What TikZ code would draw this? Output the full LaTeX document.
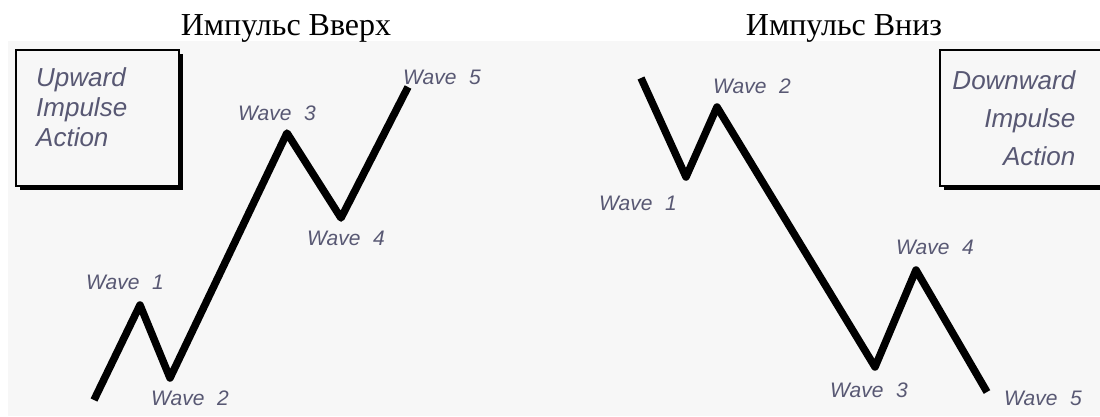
\documentclass[tikz,border=0pt]{standalone}
\usepackage{fontspec}
\setmainfont{Liberation Serif}
\newfontfamily\wavefont{Liberation Sans}
\usetikzlibrary{shadows}
\definecolor{panelgray}{RGB}{247,247,247}
\definecolor{wavetext}{RGB}{88,88,115}
\newcommand{\wv}[1]{Wave\hspace{.6em}#1}

\begin{document}
\begin{tikzpicture}[x=1pt, y=-1pt,
  heading/.style={font=\fontsize{32}{32}\selectfont, anchor=base},
  wavelbl/.style={font=\wavefont\itshape\fontsize{21}{21}\selectfont, text=wavetext},
  legend/.style={draw, line width=1.5pt, fill=panelgray, anchor=north west,
    minimum height=136pt,
    drop shadow={shadow xshift=4pt, shadow yshift=-4pt, fill=black, opacity=1}},
  legendtxt/.style={inner sep=0pt, text=wavetext},
  wave/.style={line width=7.5pt, line join=round}]
  \useasboundingbox (0,0) rectangle (1100,416);
  \clip (0,0) rectangle (1100,416);
  \fill[white] (0,0) rectangle (1100,416);
  \fill[panelgray] (8,41) rectangle (1100,416);

  % headings
  \node[heading] (upttl) at (286,35) {Импульс Вверх};
  \node[heading] (dnttl) at (844,35) {Импульс Вниз};

  % legend boxes
  \node[legend, minimum width=163pt] (upbox) at (15,49) {};
  \node[legendtxt, anchor=north west, align=left,
    font=\wavefont\itshape\fontsize{26}{30}\selectfont]
    (uptxt) at ([shift={(21,18)}]upbox.north west) {Upward\\Impulse\\Action};
  \node[legend, minimum width=165pt] (dnbox) at (939,49) {};
  \node[legendtxt, anchor=north east, align=right,
    font=\wavefont\itshape\fontsize{26}{38}\selectfont]
    (dntxt) at ([shift={(-30,21)}]dnbox.north east) {Downward\\Impulse\\Action};

  % upward impulse
  \coordinate (u0) at (94,400);
  \coordinate (u1) at (140,305);
  \coordinate (u2) at (170,378);
  \coordinate (u3) at (287,133);
  \coordinate (u4) at (341,218);
  \coordinate (u5) at (408,87);
  \draw[wave] (u0) -- (u1) -- (u2) -- (u3) -- (u4) -- (u5);
  \node[wavelbl] (uw1) at (125,282) {\wv{1}};
  \node[wavelbl] (uw2) at (190,398) {\wv{2}};
  \node[wavelbl] (uw3) at (277,113) {\wv{3}};
  \node[wavelbl] (uw4) at (346,238) {\wv{4}};
  \node[wavelbl] (uw5) at (442,77) {\wv{5}};

  % downward impulse
  \coordinate (d0) at (641,78);
  \coordinate (d1) at (686,177);
  \coordinate (d2) at (717,107);
  \coordinate (d3) at (875,367);
  \coordinate (d4) at (916,270);
  \coordinate (d5) at (987,392);
  \draw[wave] (d0) -- (d1) -- (d2) -- (d3) -- (d4) -- (d5);
  \node[wavelbl] (dw1) at (638,203) {\wv{1}};
  \node[wavelbl] (dw2) at (752,86) {\wv{2}};
  \node[wavelbl] (dw3) at (869,390) {\wv{3}};
  \node[wavelbl] (dw4) at (935,247) {\wv{4}};
  \node[wavelbl] (dw5) at (1043,398) {\wv{5}};
\end{tikzpicture}
\end{document}
